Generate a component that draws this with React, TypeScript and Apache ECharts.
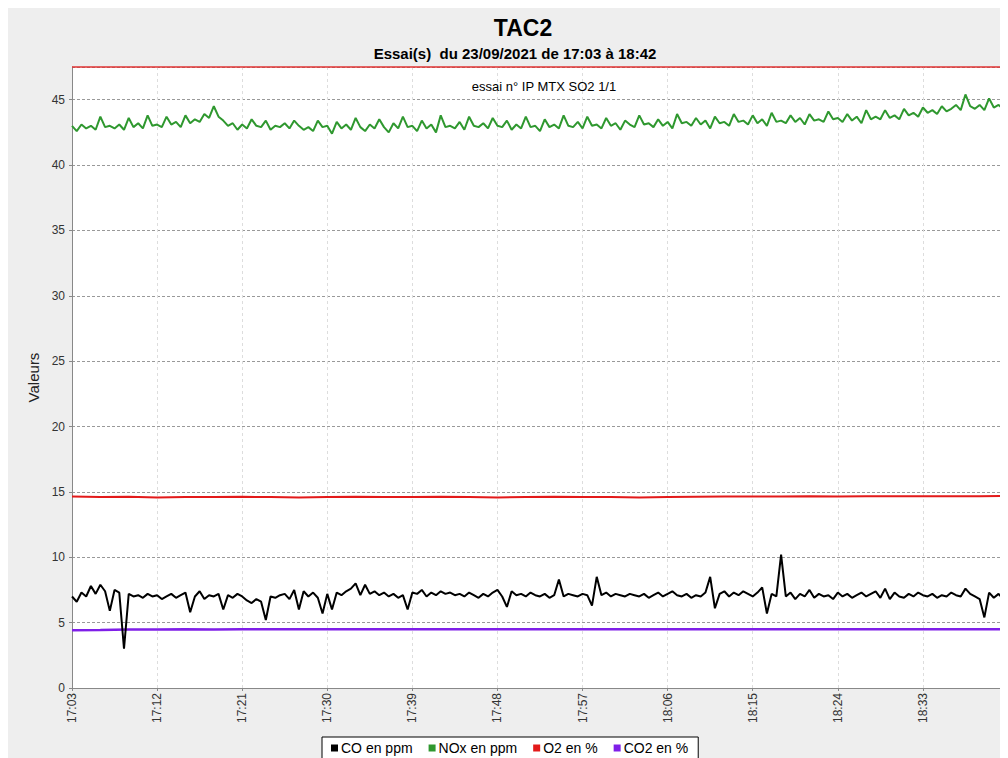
import React, { useEffect, useRef } from "react";
import * as echarts from "echarts";

// minutes since 17:03, sampling steps
const STEP_FAST = 0.5;
const STEP_SLOW = 3;

const xTickMinutes = [0, 9, 18, 27, 36, 45, 54, 63, 72, 81, 90];
const yTicks = [0, 5, 10, 15, 20, 25, 30, 35, 40, 45];

const seriesNames = ["CO en ppm", "NOx en ppm", "O2 en %", "CO2 en %"];

const coValues = [
  7.0, 6.6, 7.3, 7.0, 7.8, 7.2, 7.9, 7.4, 5.9, 7.5,
  7.3, 3.0, 7.2, 7.0, 7.1, 6.9, 7.2, 7.0, 7.1, 6.8,
  7.0, 7.2, 6.9, 7.1, 7.3, 5.8, 7.0, 7.4, 6.8, 7.1,
  7.0, 7.2, 6.0, 7.1, 6.9, 7.2, 7.0, 6.7, 6.5, 6.8,
  6.6, 5.2, 7.0, 6.9, 7.1, 7.2, 6.8, 7.5, 6.0, 7.4,
  7.0, 7.3, 6.9, 5.7, 7.2, 6.0, 7.3, 7.1, 7.4, 7.6,
  8.0, 7.1, 7.9, 7.2, 7.4, 7.1, 7.3, 7.0, 7.2, 6.9,
  7.1, 6.0, 7.3, 7.2, 7.5, 7.0, 7.3, 7.1, 7.4, 7.2,
  7.3, 7.1, 7.2, 7.0, 7.3, 7.1, 6.9, 7.2, 7.0, 7.3,
  7.5, 7.0, 6.2, 7.4, 7.1, 7.2, 7.0, 7.3, 7.1, 7.0,
  7.2, 6.9, 7.1, 8.3, 7.0, 7.2, 7.1, 7.0, 7.2, 7.1,
  6.3, 8.5, 7.1, 7.3, 7.0, 7.2, 7.1, 7.0, 7.2, 7.1,
  7.0, 7.2, 6.9, 7.1, 7.3, 7.0, 7.2, 7.4, 7.1, 7.0,
  7.2, 6.9, 7.1, 7.0, 7.3, 8.5, 6.1, 7.2, 7.4, 7.0,
  7.3, 7.1, 7.4, 7.2, 7.0, 7.3, 7.7, 5.7, 7.2, 7.0,
  10.2, 7.0, 7.3, 6.8, 7.2, 7.0, 7.5, 6.9, 7.2, 7.0,
  7.1, 6.8, 7.3, 7.0, 7.2, 6.9, 7.1, 7.3, 7.0, 7.2,
  7.4, 6.9, 7.6, 6.8, 7.3, 7.0, 6.9, 7.2, 7.0, 7.3,
  7.1, 7.0, 7.2, 6.9, 7.1, 7.0, 7.3, 7.1, 7.0, 7.6,
  7.2, 7.0, 6.8, 5.4, 7.3, 6.9, 7.2, 6.8, 7.4,
];

const noxValues = [
  43.0, 42.6, 43.1, 42.8, 43.0, 42.7, 43.7, 42.9, 43.0, 42.8,
  43.1, 42.7, 43.6, 42.9, 43.2, 42.8, 43.8, 43.0, 43.1, 42.9,
  43.7, 43.1, 43.3, 42.9, 43.8, 43.2, 43.5, 43.3, 43.9, 43.6,
  44.5, 43.7, 43.4, 43.0, 43.2, 42.7, 43.1, 42.8, 43.5, 43.0,
  42.9, 43.4, 42.7, 43.0, 42.9, 43.2, 42.8, 43.4, 43.0, 42.7,
  42.9, 42.6, 43.4, 42.9, 43.0, 42.4, 43.3, 42.8, 43.1, 42.7,
  43.6, 42.9, 42.6, 43.1, 42.8, 43.5, 42.9, 42.5, 43.2, 42.8,
  43.7, 42.9, 43.0, 42.6, 43.4, 42.8, 43.1, 42.5, 43.8, 42.9,
  43.0, 42.8, 43.3, 42.7, 43.7, 43.0, 42.9, 43.2, 42.8, 43.6,
  43.0, 42.9, 43.4, 42.7, 43.1, 42.8, 43.7, 42.9, 43.0, 42.6,
  43.5, 42.9, 43.1, 42.8, 43.8, 43.0, 42.9, 43.3, 42.8, 43.7,
  43.0, 43.1, 42.8, 43.6, 43.0, 43.2, 42.7, 43.4, 43.1, 42.9,
  43.8, 43.1, 43.2, 42.9, 43.5, 43.0, 43.3, 42.8, 43.9, 43.2,
  43.3, 43.0, 43.6, 43.1, 43.4, 42.8, 43.7, 43.2, 43.3, 43.0,
  43.9, 43.3, 43.4, 43.1, 43.8, 43.2, 43.5, 43.0, 44.0, 43.3,
  43.4, 43.2, 43.8, 43.3, 43.6, 43.1, 43.9, 43.4, 43.5, 43.3,
  44.1, 43.5, 43.6, 43.3, 43.9, 43.4, 43.7, 43.2, 44.2, 43.5,
  43.7, 43.5, 44.2, 43.6, 43.8, 43.5, 44.3, 43.8, 44.0, 43.7,
  44.4, 44.0, 44.2, 43.9, 44.5, 44.1, 44.3, 44.6, 44.2, 45.4,
  44.5, 44.3, 44.6, 44.2, 45.1, 44.4, 44.6, 44.3, 43.8,
];

const o2Values = [
  14.65, 14.6, 14.62, 14.58, 14.6, 14.6, 14.62, 14.6, 14.58, 14.6,
  14.62, 14.6, 14.6, 14.62, 14.6, 14.58, 14.6, 14.62, 14.6, 14.6,
  14.58, 14.6, 14.62, 14.64, 14.65, 14.65, 14.66, 14.65, 14.66, 14.66,
  14.67, 14.66, 14.67, 14.68,
];

const co2Values = [
  4.42, 4.44, 4.47, 4.48, 4.49, 4.48, 4.49, 4.5, 4.49, 4.5,
  4.49, 4.5, 4.5, 4.49, 4.5, 4.5, 4.49, 4.5, 4.5, 4.49,
  4.5, 4.5, 4.49, 4.5, 4.5, 4.49, 4.5, 4.49, 4.5, 4.49,
  4.5, 4.49, 4.5, 4.49,
];

const colors = ["#000000", "#2f982f", "#e31a1a", "#7f1fe8"];

const toPairs = (vals: number[], step: number) => vals.map((v, i) => [i * step, v]);

const fmtTime = (v: number) => {
  const tot = 17 * 60 + 3 + Math.round(v);
  return `${Math.floor(tot / 60)}:${String(tot % 60).padStart(2, "0")}`;
};

export default function App() {
  const ref = useRef<HTMLDivElement>(null);
  useEffect(() => {
    document.body.style.overflow = "hidden";
    const chart = echarts.init(ref.current!, null, { renderer: "svg" });
    const font = "'Liberation Sans', Arial, sans-serif";
    const data = [
      toPairs(coValues, STEP_FAST),
      toPairs(noxValues, STEP_FAST),
      toPairs(o2Values, STEP_SLOW),
      toPairs(co2Values, STEP_SLOW),
    ];
    chart.setOption({
      animation: false,
      backgroundColor: "#eeeeee",
      textStyle: { fontFamily: font },
      title: [
        {
          text: "TAC2",
          left: 510,
          textAlign: "center",
          top: 3,
          textStyle: { fontSize: 23, fontWeight: "bold", color: "#000", fontFamily: font },
        },
        {
          text: "Essai(s)  du 23/09/2021 de 17:03 à 18:42",
          left: 502,
          textAlign: "center",
          top: 33,
          textStyle: { fontSize: 15, fontWeight: "bold", color: "#000", fontFamily: font },
        },
        {
          text: "essai n° IP MTX SO2 1/1",
          left: 531,
          textAlign: "center",
          top: 67,
          textStyle: { fontSize: 13, fontWeight: "normal", color: "#000", fontFamily: font },
        },
      ],
      legend: {
        data: seriesNames.map((n, i) => ({ name: n, icon: "rect", itemStyle: { color: colors[i] } })),
        bottom: -3,
        left: 314,
        itemWidth: 7,
        itemHeight: 7,
        itemGap: 16,
        padding: [4, 10, 6, 9],
        backgroundColor: "#ffffff",
        borderColor: "#000000",
        borderWidth: 1,
        borderRadius: 0,
        textStyle: { fontSize: 14, color: "#000", fontFamily: font, padding: [0, 0, 0, -2] },
      },
      grid: {
        left: 64,
        top: 59,
        right: 0,
        bottom: 70,
        show: true,
        backgroundColor: "#ffffff",
        borderWidth: 0,
      },
      xAxis: {
        type: "value",
        min: 0,
        max: 99,
        interval: 9,
        axisLine: { show: true, lineStyle: { color: "#888", width: 1 } },
        axisTick: { show: true, length: 3, lineStyle: { color: "#888" } },
        axisLabel: {
          rotate: 90,
          fontSize: 12,
          color: "#333",
          margin: 5,
          showMaxLabel: false,
          formatter: (v: number) => (xTickMinutes.includes(v) ? fmtTime(v) : ""),
        },
        splitLine: { show: true, lineStyle: { color: "#dddddd", type: [3, 3], width: 1 } },
      },
      yAxis: {
        type: "value",
        min: 0,
        max: 47.5,
        interval: 5,
        name: "Valeurs",
        nameLocation: "middle",
        nameGap: 31,
        nameTextStyle: { fontSize: 15, color: "#222", fontFamily: font },
        axisLine: { show: true, lineStyle: { color: "#888", width: 1 } },
        axisTick: { show: true, length: 3, lineStyle: { color: "#888" } },
        axisLabel: {
          fontSize: 12,
          color: "#333",
          margin: 7,
          showMaxLabel: false,
          formatter: (v: number) => (yTicks.includes(v) ? String(v) : ""),
        },
        splitLine: { show: true, lineStyle: { color: "#999999", type: [3, 2], width: 1 } },
      },
      graphic: [
        {
          type: "line",
          shape: { x1: 64, y1: 59, x2: 1000, y2: 59 },
          style: { stroke: "#e03232", lineWidth: 1.5 },
          z: 100,
        },
      ],
      series: seriesNames.map((n, i) => ({
        name: n,
        type: "line",
        data: data[i],
        showSymbol: false,
        symbol: "none",
        color: colors[i],
        lineStyle: { width: i === 3 ? 2.5 : 2, color: colors[i] },
        z: i === 2 || i === 3 ? 2 : 3,
      })),
    });
    return () => chart.dispose();
  }, []);
  return <div ref={ref} style={{ width: 1000, height: 750 }} />;
}
